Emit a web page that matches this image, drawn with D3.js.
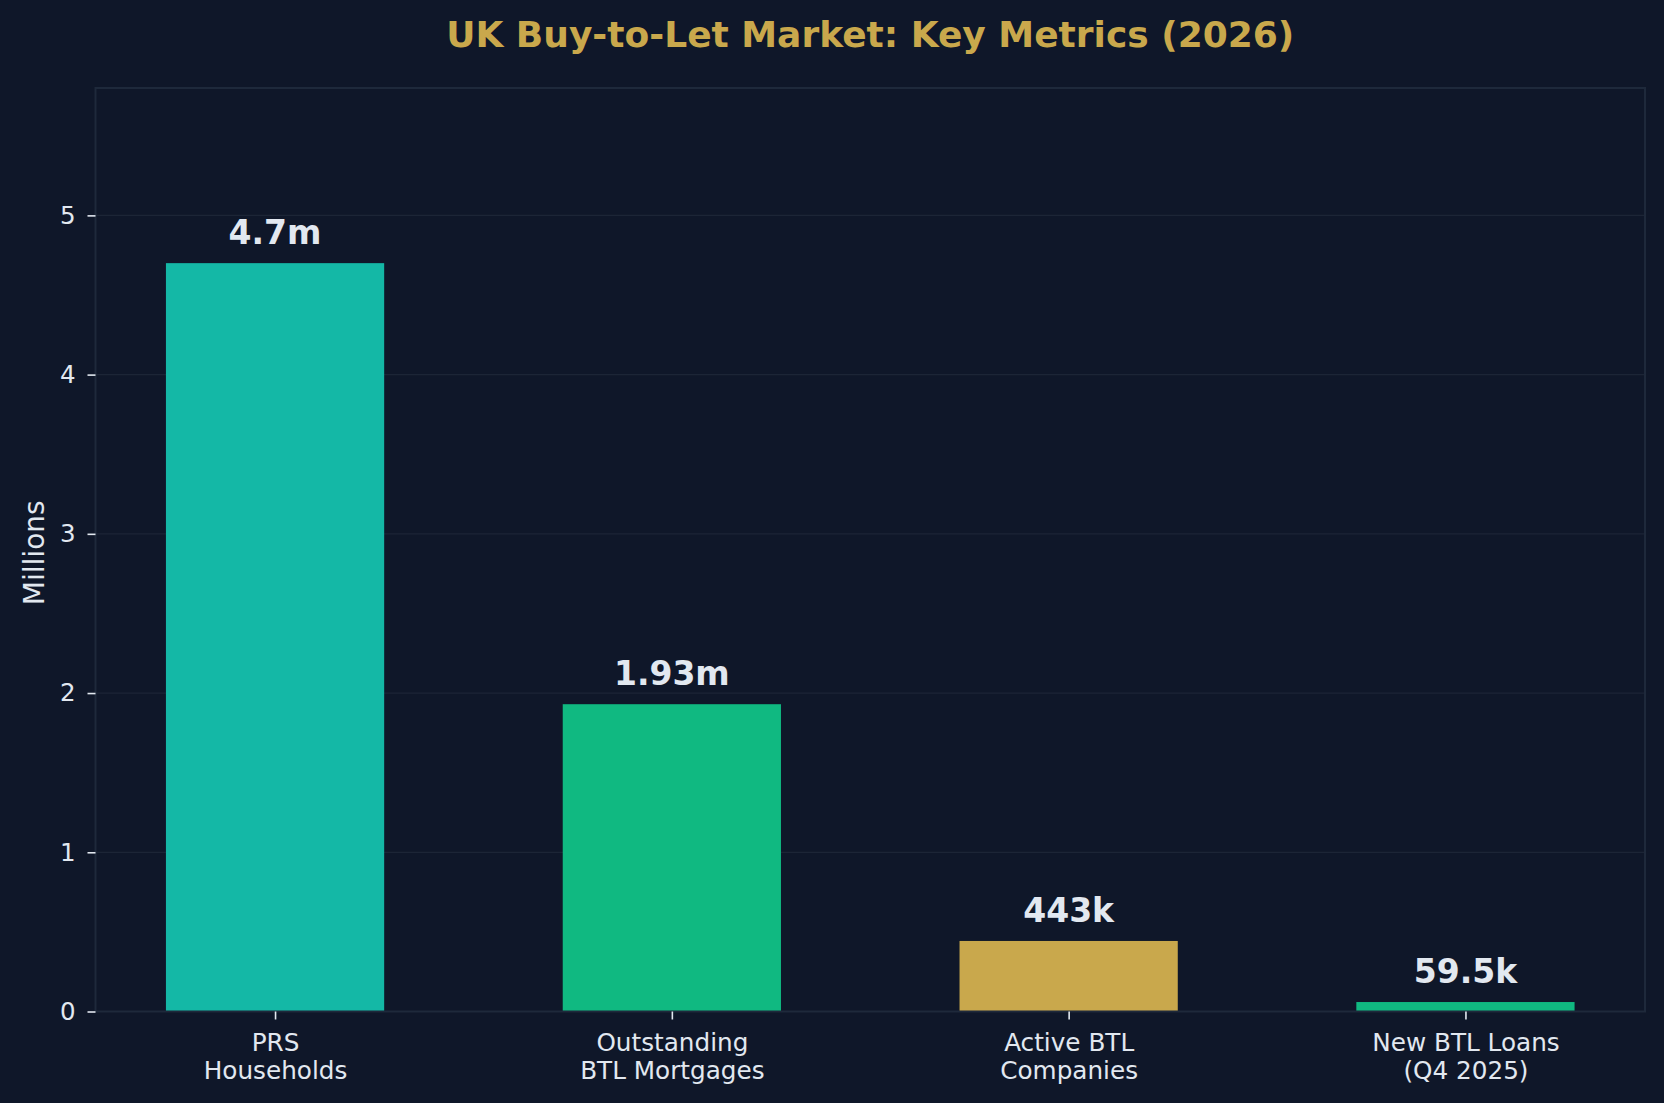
<!DOCTYPE html>
<html>
<head>
<meta charset="utf-8">
<script src="https://cdn.jsdelivr.net/npm/d3@7"></script>
<style>
  html, body { margin: 0; padding: 0; background: #0f1729; }
  svg { display: block; font-family: "DejaVu Sans", sans-serif; }
</style>
</head>
<body>
<svg id="chart"></svg>
<script>
/******************** data ********************/
const categories = [
  ["PRS", "Households"],
  ["Outstanding", "BTL Mortgages"],
  ["Active BTL", "Companies"],
  ["New BTL Loans", "(Q4 2025)"],
];
const values = [4.7, 1.93, 0.443, 0.0595]; // millions
const valueLabels = ["4.7m", "1.93m", "443k", "59.5k"];
const barColors = ["#14b8a6", "#10b981", "#c9a84c", "#10b981"];
const yTicks = [0, 1, 2, 3, 4, 5];

/******************** layout ********************/
const width = 1664;
const height = 1103;
const plot = { left: 95.5, right: 1645, top: 88, bottom: 1011.5 };
const barWidth = 0.55;

const bg = "#0f1729";
const gridColor = "#1c2536";
const spineColor = "#1e293b";
const textColor = "#e2e8f0";
const gold = "#c9a84c";

const svg = d3.select("svg#chart").attr("width", width).attr("height", height);
svg.append("rect").attr("width", width).attr("height", height).attr("fill", bg);

const scaleX = d3
  .scaleLinear()
  .domain([-0.275 - 0.1775, 3.275 + 0.1775])
  .range([plot.left, plot.right]);
const scaleY = d3.scaleLinear().domain([0, 5.8]).range([plot.bottom, plot.top]);

// gridlines
svg
  .append("g")
  .attr("class", "grid")
  .selectAll("line")
  .data(yTicks.filter((d) => d > 0))
  .join("line")
  .attr("x1", plot.left)
  .attr("x2", plot.right)
  .attr("y1", (d) => scaleY(d))
  .attr("y2", (d) => scaleY(d))
  .attr("stroke", gridColor)
  .attr("stroke-width", 1.2);

// bars
svg
  .append("g")
  .attr("class", "bars")
  .selectAll("rect")
  .data(values)
  .join("rect")
  .attr("x", (_, i) => scaleX(i - barWidth / 2))
  .attr("width", (_, i) => scaleX(i + barWidth / 2) - scaleX(i - barWidth / 2))
  .attr("y", (d) => scaleY(d))
  .attr("height", (d) => scaleY(0) - scaleY(d))
  .attr("fill", (_, i) => barColors[i]);

// value labels
svg
  .append("g")
  .attr("class", "values")
  .selectAll("text")
  .data(values)
  .join("text")
  .attr("x", (_, i) => scaleX(i))
  .attr("y", (d) => scaleY(d) - 19)
  .attr("text-anchor", "middle")
  .attr("fill", textColor)
  .style("font-size", "33px")
  .style("font-weight", "bold")
  .text((_, i) => valueLabels[i]);

// frame
svg
  .append("rect")
  .attr("x", plot.left)
  .attr("y", plot.top)
  .attr("width", plot.right - plot.left)
  .attr("height", plot.bottom - plot.top)
  .attr("fill", "none")
  .attr("stroke", spineColor)
  .attr("stroke-width", 2);

// y axis
const yAxis = d3.axisLeft(scaleY).tickValues(yTicks).tickSize(8).tickPadding(12).tickFormat(d3.format("d"));
const yg = svg.append("g").attr("class", "y-axis").attr("transform", `translate(${plot.left},0)`).call(yAxis);
yg.select(".domain").remove();
yg.selectAll(".tick line").attr("stroke", textColor).attr("stroke-width", 1.6);
yg.selectAll(".tick text")
  .attr("fill", textColor)
  .style("font-size", "24.5px")
  .style("font-family", "DejaVu Sans, sans-serif");

// x axis
const xAxis = d3.axisBottom(scaleX).tickValues(d3.range(categories.length)).tickSize(8).tickFormat("");
const xg = svg.append("g").attr("class", "x-axis").attr("transform", `translate(0,${plot.bottom})`).call(xAxis);
xg.select(".domain").remove();
xg.selectAll(".tick line").attr("stroke", textColor).attr("stroke-width", 1.6);
xg.selectAll(".tick")
  .append("text")
  .attr("text-anchor", "middle")
  .attr("fill", textColor)
  .style("font-size", "24.7px")
  .style("font-family", "DejaVu Sans, sans-serif")
  .selectAll("tspan")
  .data((d) => categories[d])
  .join("tspan")
  .attr("x", 0)
  .attr("y", (_, j) => 39 + j * 28)
  .text((d) => d);

// y label
svg
  .append("text")
  .text("Millions")
  .attr("transform", `translate(43.5,${(plot.top + plot.bottom) / 2 + 3}) rotate(-90)`)
  .attr("text-anchor", "middle")
  .attr("fill", textColor)
  .style("font-size", "28px");

// title
svg
  .append("text")
  .text("UK Buy-to-Let Market: Key Metrics (2026)")
  .attr("x", (plot.left + plot.right) / 2)
  .attr("y", 47)
  .attr("text-anchor", "middle")
  .attr("fill", gold)
  .style("font-size", "36px")
  .style("font-weight", "bold");
</script>
</body>
</html>
